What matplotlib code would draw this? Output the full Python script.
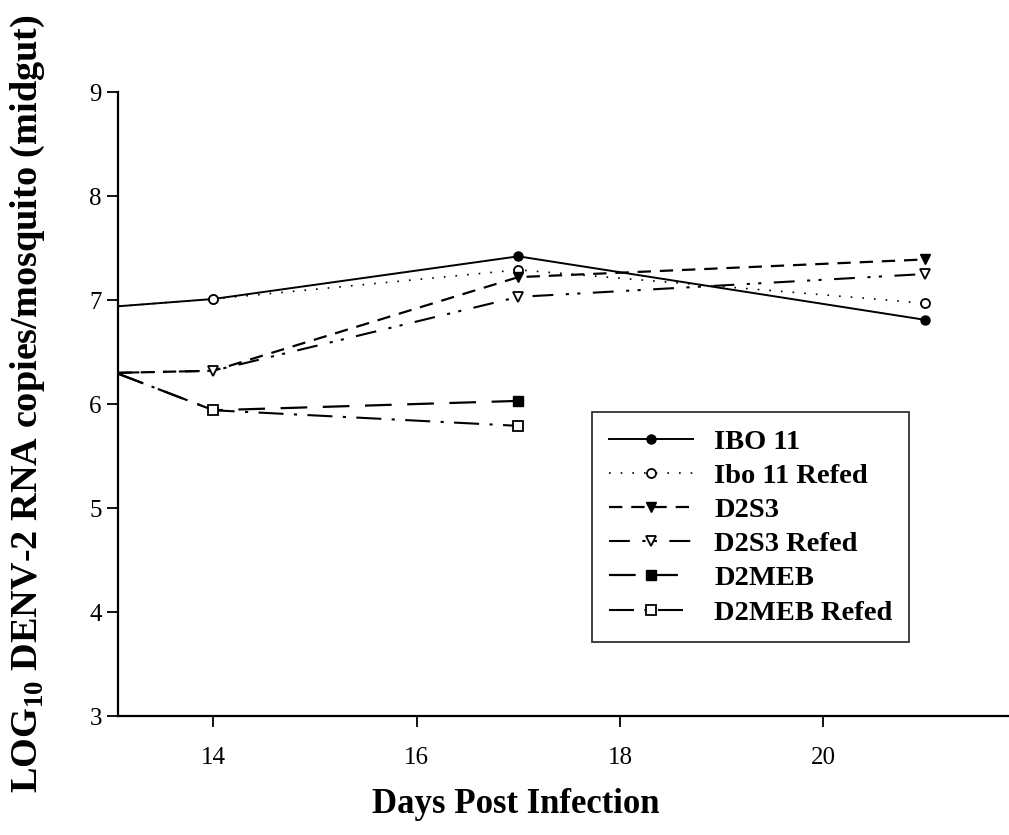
import matplotlib
matplotlib.use('Agg')
import matplotlib.pyplot as plt

plt.rcParams['font.family'] = ['Liberation Serif', 'DejaVu Serif']
plt.rcParams['mathtext.fontset'] = 'custom'
plt.rcParams['mathtext.rm'] = 'Liberation Serif'
plt.rcParams['mathtext.bf'] = 'Liberation Serif:bold'

# days post infection; first entry is where the curves enter at the axis edge
days = [13.065, 14, 17, 21]
days_meb = [13.065, 14, 17]

ibo11 = [6.94, 7.01, 7.42, 6.81]
ibo11_refed = [6.94, 7.01, 7.29, 6.97]
d2s3 = [6.30, 6.32, 7.22, 7.39]
d2s3_refed = [6.30, 6.32, 7.03, 7.25]
d2meb = [6.29, 5.94, 6.03]
d2meb_refed = [6.29, 5.94, 5.79]

fig = plt.figure(figsize=(10.09, 8.35), dpi=100)
ax = fig.add_axes([0.1174, 0.1425, 0.8826, 0.7473])

ms = 6.5
# markers only on the measured days, not at the axis edge
ax.plot(days, ibo11, color='black', lw=1.4, ls='-', marker='o', ms=ms,
        mfc='black', mec='black', markevery=[1, 2, 3], label='IBO 11')
ax.plot(days, ibo11_refed, color='black', lw=1.2, ls=(0, (1, 6)), marker='o', ms=ms,
        mfc='white', mec='black', mew=1.3, markevery=[1, 2, 3], label='Ibo 11 Refed')
ax.plot(days, d2s3, color='black', lw=1.6, ls=(0, (6, 4)), marker='v', ms=ms + 1,
        mfc='black', mec='black', markevery=[2, 3], label='D2S3')
ax.plot(days, d2s3_refed, color='black', lw=1.5, ls=(0, (10, 6, 1.5, 4, 1.5, 6)), marker='v', ms=ms + 1,
        mfc='white', mec='black', mew=1.3, markevery=[1, 2, 3], label='D2S3 Refed')
ax.plot(days_meb, d2meb, color='black', lw=1.6, ls=(0, (12, 7)), marker='s', ms=ms,
        mfc='black', mec='black', markevery=[2], label='D2MEB')
ax.plot(days_meb, d2meb_refed, color='black', lw=1.5, ls=(0, (12, 5, 1.5, 5)), marker='s', ms=ms,
        mfc='white', mec='black', mew=1.3, markevery=[1, 2], label='D2MEB Refed')

ax.set_xlim(13.065, 21.83)
ax.set_ylim(3, 9)
ax.set_xticks([14, 16, 18, 20])
ax.set_yticks([3, 4, 5, 6, 7, 8, 9])

for side in ['top', 'right']:
    ax.spines[side].set_visible(False)
for side in ['left', 'bottom']:
    ax.spines[side].set_linewidth(1.6)

ax.tick_params(direction='out', length=8, width=1.3, labelsize=18)
ax.tick_params(axis='x', pad=14)
ax.tick_params(axis='y', pad=4)

ax.set_xlabel('Days Post Infection', fontsize=25, fontweight='bold')
ax.xaxis.set_label_coords(0.446, -0.115)
ax.set_ylabel(r'LOG$_{\mathbf{10}}$ DENV-2 RNA copies/mosquito (midgut)',
              fontsize=27.5, fontweight='bold')
ax.yaxis.set_label_coords(-0.08, 0.5)

leg = ax.legend(loc='upper left', bbox_to_anchor=(0.532, 0.487), borderaxespad=0,
                prop={'weight': 'bold', 'size': 20.5}, frameon=True, fancybox=False,
                handlelength=2.95, borderpad=0.58, labelspacing=0.29, handletextpad=0.75)
leg.get_frame().set_edgecolor('black')
leg.get_frame().set_linewidth(1.3)

fig.savefig('out.png', dpi=100)
